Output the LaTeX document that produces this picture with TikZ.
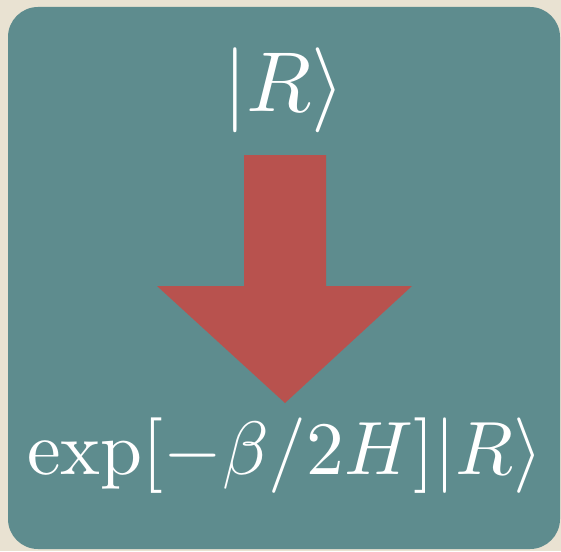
\documentclass[tikz,border=0pt]{standalone}
\usepackage{amsmath, amssymb}
\usepackage{xcolor}
\usepackage{tikz}
\usetikzlibrary{positioning}
\definecolor{paper}{RGB}{233, 226, 210}
\definecolor{panel}{RGB}{94, 140, 142}
\definecolor{arrowred}{RGB}{184, 82, 78}

\begin{document}
\begin{tikzpicture}[
    x = 1pt, y = -1pt,
    panelbox/.style = {fill=panel, rounded corners=30pt},
    ket/.style = {text=white, inner sep=0pt, anchor=base},
    bigarrow/.style = {fill=arrowred}
  ]
    % background and panel
    \fill[paper] (0,0) rectangle (561,551);
    \useasboundingbox (0,0) rectangle (561,551);
    \fill[panelbox] (8,7) rectangle (560,549);

    \node[ket, scale=8.5] (in) at (284,111) {$|R\rangle$};
    \node[ket, scale=7.55] (out) at (285,474) {$\exp[-\beta/2H]|R\rangle$};

    % the big arrow
    \fill[bigarrow] (244,155) -- (326,155) -- (326,286) -- (412,286)
      -- (285,403) -- (157,286) -- (244,286) -- cycle;
  \end{tikzpicture}
\end{document}
